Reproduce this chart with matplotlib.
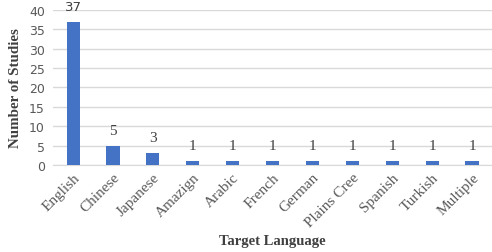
import matplotlib
matplotlib.use("Agg")
import matplotlib.pyplot as plt
import numpy as np

languages = ["English", "Chinese", "Japanese", "Amazign", "Arabic", "French",
             "German", "Plains Cree", "Spanish", "Turkish", "Multiple"]
studies = [37, 5, 3, 1, 1, 1, 1, 1, 1, 1, 1]
y_ticks = [0, 5, 10, 15, 20, 25, 30, 35, 40]

bar_color = "#4472c4"
grid_color = "#d9d9d9"
text_color = "#595959"

fig = plt.figure(figsize=(4.92, 2.53), dpi=100)
ax = fig.add_axes([0.108, 0.344, 0.892, 0.613])

x = np.arange(len(languages))
ax.bar(x, studies, width=0.33, color=bar_color, zorder=3)

ax.set_xlim(-0.5, len(languages) - 0.5)
ax.set_ylim(0, 40)
ax.set_yticks(y_ticks)
ax.set_yticklabels([str(t) for t in y_ticks], family="DejaVu Sans",
                   fontsize=9, color=text_color)
ax.grid(axis="y", color=grid_color, linewidth=1, zorder=0)

for s in ["top", "right", "left"]:
    ax.spines[s].set_visible(False)
ax.spines["bottom"].set_color(grid_color)
ax.tick_params(axis="y", length=0, pad=6)
ax.tick_params(axis="x", length=0, pad=4)

ax.set_xticks(x)
ax.set_xticklabels(languages, rotation=45, ha="right", rotation_mode="anchor",
                   family="Liberation Serif", fontsize=11, color=text_color)

# value labels above bars
for xi, v in zip(x, studies):
    fam = "DejaVu Sans" if v >= 10 else "Liberation Serif"
    ax.text(xi, v + 2.3, str(v), ha="center", va="bottom", family=fam,
            fontsize=11 if v < 10 else 9.5, color="#404040")

ax.set_ylabel("Number of Studies", family="Liberation Serif", fontweight="bold",
              fontsize=10.8, color="#404040", labelpad=5)
fig.text(0.553, 0.02, "Target Language", family="Liberation Serif",
         fontweight="bold", fontsize=10.5, color="#404040", ha="center", va="bottom")

fig.savefig("out.png", dpi=100)
